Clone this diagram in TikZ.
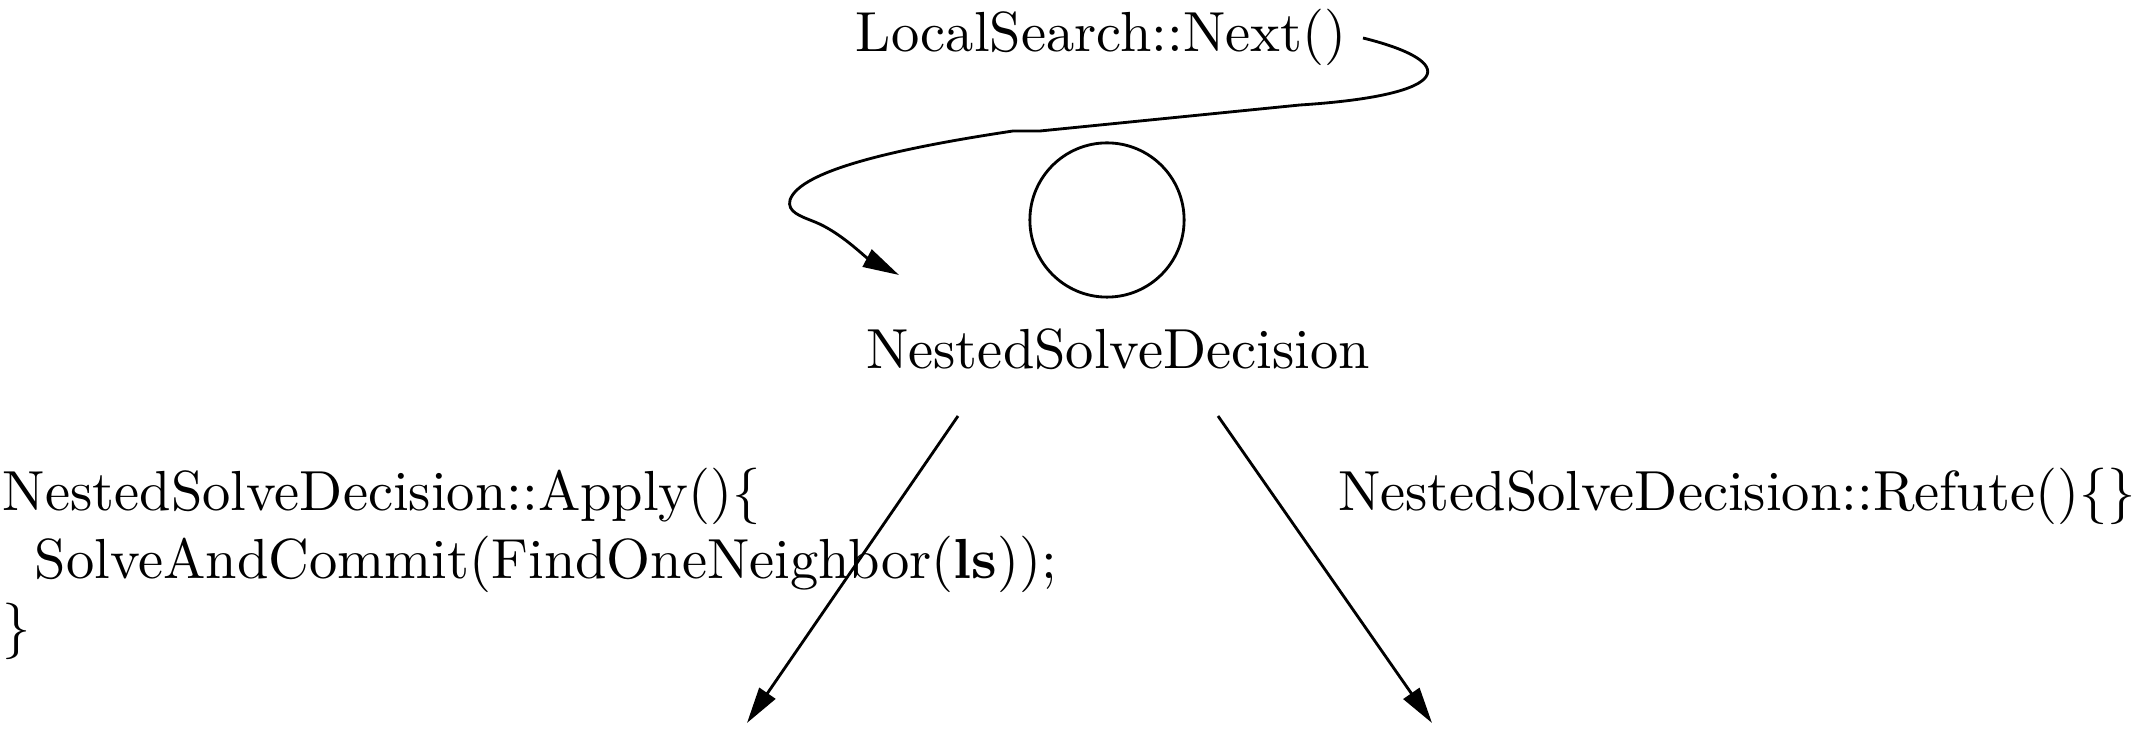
\documentclass[tikz,border=0pt]{standalone}
\usetikzlibrary{arrows.meta}
\begin{document}
\begin{tikzpicture}[x=0.177pt, y=-0.177pt,
  lbl/.style={inner sep=0pt, outer sep=0pt},
  edge/.style={line width=0.5pt, -{Triangle[length=6.4pt, width=3.4pt]}},
  ring/.style={circle, draw, line width=0.5pt, inner sep=0pt, minimum size=27.3pt}]
\useasboundingbox (0,0) rectangle (2146,729);
% nodes
\node[lbl, anchor=base] (ls) at (1101,52) {LocalSearch::Next()};
\node[ring] (dec) at (1107,220) {};
\node[lbl, anchor=base] (declbl) at (1118,369) {NestedSolveDecision};
\node[lbl, anchor=base west, align=left] (apply) at (3,646)
  {NestedSolveDecision::Apply()\{\\\hspace*{5.6pt}SolveAndCommit(FindOneNeighbor(\textbf{ls}));\\\}};
\node[lbl, anchor=base west] (refute) at (1338,511) {NestedSolveDecision::Refute()\{\}};
% connector end points
\coordinate (c0) at (1363,38);
\coordinate (c1) at (899,275);
\coordinate (l0) at (958,416);
\coordinate (l1) at (747,723);
\coordinate (r0) at (1218,416);
\coordinate (r1) at (1432,723);
% connectors
\draw[edge] (c0) .. controls (1460,62) and (1455,95) .. (1300,105)
  -- (1040,131) -- (1013,131) .. controls (900,148) and (800,170) .. (790,200)
  .. controls (787,212) and (800,216) .. (815,222)
  .. controls (840,232) and (865,257) .. (c1);
\draw[edge] (l0) -- (l1);
\draw[edge] (r0) -- (r1);
\end{tikzpicture}
\end{document}
